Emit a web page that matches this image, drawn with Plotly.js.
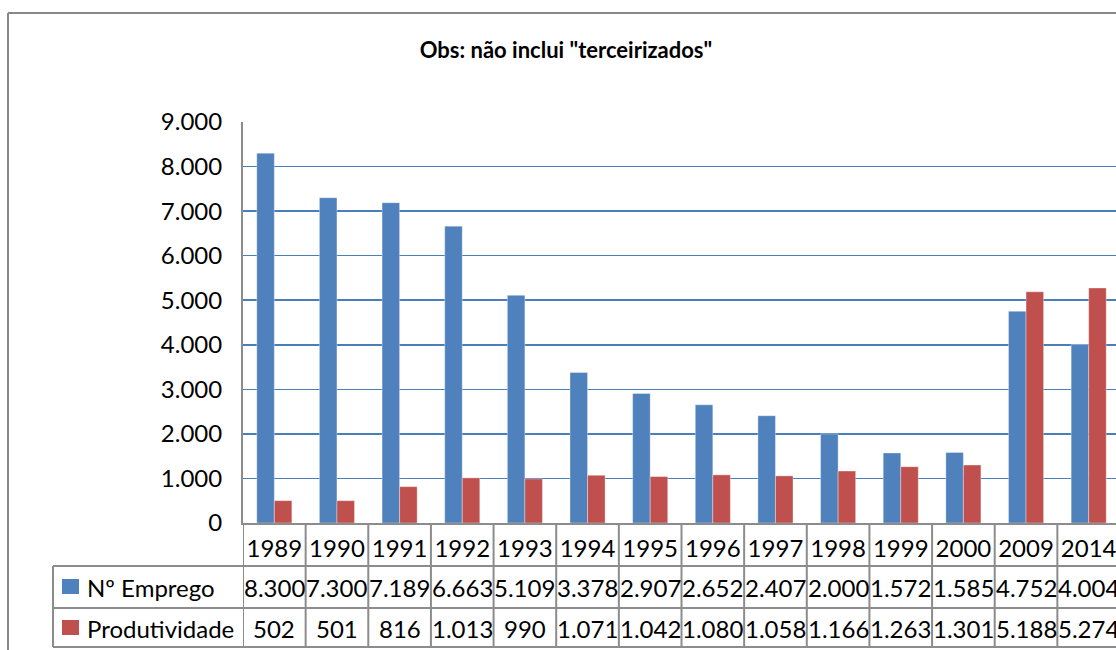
<!DOCTYPE html>
<html>
<head>
<meta charset="utf-8">
<script src="https://cdn.plot.ly/plotly-3.0.1.min.js"></script>
<style>
html,body{margin:0;padding:0;overflow:hidden;background:#fff;}
#chart{width:1130px;height:650px;}
</style>
</head>
<body>
<div id="chart"></div>
<script>
const years = ['1989','1990','1991','1992','1993','1994','1995','1996','1997','1998','1999','2000','2009','2014'];
const emprego = [8300,7300,7189,6663,5109,3378,2907,2652,2407,2000,1572,1585,4752,4004];
const produtividade = [502,501,816,1013,990,1071,1042,1080,1058,1166,1263,1301,5188,5274];
const seriesNames = ['Nº Emprego','Produtividade'];
const titleText = 'Obs: não inclui "terceirizados"';

const BLUE = '#4F81BD', RED = '#C0504D', GRID = '#4A7EBB', LINE = '#8C8C8C';
const FONT = 'Lato, "Open Sans", sans-serif';

function fmt(n){ return String(n).replace(/\B(?=(\d{3})+(?!\d))/g, '.'); }

// layout geometry (pixels) -> paper fractions
const W = 1130, H = 650, ML = 243, MR = 10, MT = 122, MB = 127;
const PW = W - ML - MR, PH = H - MT - MB;
const px = x => (x - ML) / PW;
const py = y => (H - MB - y) / PH;

const traces = [
  {type:'bar', name:seriesNames[0], x:years, y:emprego, marker:{color:BLUE, line:{color:'rgba(255,255,255,0.35)', width:1}}, hoverinfo:'x+y'},
  {type:'bar', name:seriesNames[1], x:years, y:produtividade, marker:{color:RED, line:{color:'rgba(255,255,255,0.35)', width:1}}, hoverinfo:'x+y'}
];

const shapes = [];
const annotations = [];
const rowTop = 566, rowMid = 608, rowBot = 647, tableLeft = 53;
// vertical cell borders
for (let i = 0; i <= years.length; i++) {
  shapes.push({type:'line', xref:'x', yref:'paper', x0:i-0.5, x1:i-0.5, y0:0, y1:py(rowBot), line:{color:LINE, width:2}});
}
shapes.push({type:'line', xref:'paper', yref:'paper', x0:px(tableLeft), x1:px(tableLeft), y0:py(rowTop), y1:py(rowBot), line:{color:LINE, width:2}});
[rowTop, rowMid, rowBot].forEach(y => {
  shapes.push({type:'line', xref:'paper', yref:'paper', x0:px(tableLeft), x1:1.02, y0:py(y), y1:py(y), line:{color:LINE, width:2}});
});
// outer chart border
shapes.push({type:'line', xref:'paper', yref:'paper', x0:px(8), x1:px(8), y0:py(13), y1:py(700), line:{color:'#888888', width:2}});
shapes.push({type:'line', xref:'paper', yref:'paper', x0:px(8), x1:px(1200), y0:py(13), y1:py(13), line:{color:'#888888', width:2}});
// legend keys
shapes.push({type:'rect', xref:'paper', yref:'paper', x0:px(62), x1:px(79), y0:py(579), y1:py(594), fillcolor:BLUE, line:{width:0}});
shapes.push({type:'rect', xref:'paper', yref:'paper', x0:px(62), x1:px(79), y0:py(620), y1:py(635), fillcolor:RED, line:{width:0}});

const TF = {family:FONT, size:24, color:'#000'};
annotations.push({xref:'paper', yref:'paper', x:px(85), y:py(587), xanchor:'left', yanchor:'middle', text:seriesNames[0], showarrow:false, font:TF});
annotations.push({xref:'paper', yref:'paper', x:px(85), y:py(628), xanchor:'left', yanchor:'middle', text:seriesNames[1], showarrow:false, font:TF});

years.forEach((yr, i) => {
  // category axes place annotations by category index
  annotations.push({xref:'x', yref:'paper', x:i, y:py(587), xanchor:'center', yanchor:'middle', text:fmt(emprego[i]), showarrow:false, font:TF});
  annotations.push({xref:'x', yref:'paper', x:i, y:py(628), xanchor:'center', yanchor:'middle', text:fmt(produtividade[i]), showarrow:false, font:TF});
});

const layout = {
  width: W, height: H,
  margin: {l:ML, r:MR, t:MT, b:MB, pad:0},
  paper_bgcolor:'#fff', plot_bgcolor:'#fff',
  separators: ',.',
  showlegend: false,
  barmode: 'group', bargap: 0.44, bargroupgap: 0,
  title: {text: '<b>' + titleText + '</b>', x: 566 / W, xanchor:'center', y: 1 - 50 / H, yanchor:'middle', font:{family:FONT, size:22, color:'#000'}},
  xaxis: {type:'category', range:[-0.5, years.length - 0.5], showgrid:false, showline:true, linecolor:LINE, linewidth:2, ticks:'', ticklabelstandoff:3, tickfont:{family:FONT, size:24, color:'#000'}, zeroline:false, fixedrange:true},
  yaxis: {range:[0, 9000], dtick:1000, tick0:0, tickformat:',d', showgrid:true, gridcolor:GRID, gridwidth:1.5, showline:true, linecolor:LINE, linewidth:2, ticks:'', ticklabelstandoff:14, tickfont:{family:FONT, size:24, color:'#000'}, zeroline:false, fixedrange:true},
  shapes: shapes,
  annotations: annotations
};

Plotly.newPlot('chart', traces, layout, {displayModeBar:false, staticPlot:true});
</script>
</body>
</html>
